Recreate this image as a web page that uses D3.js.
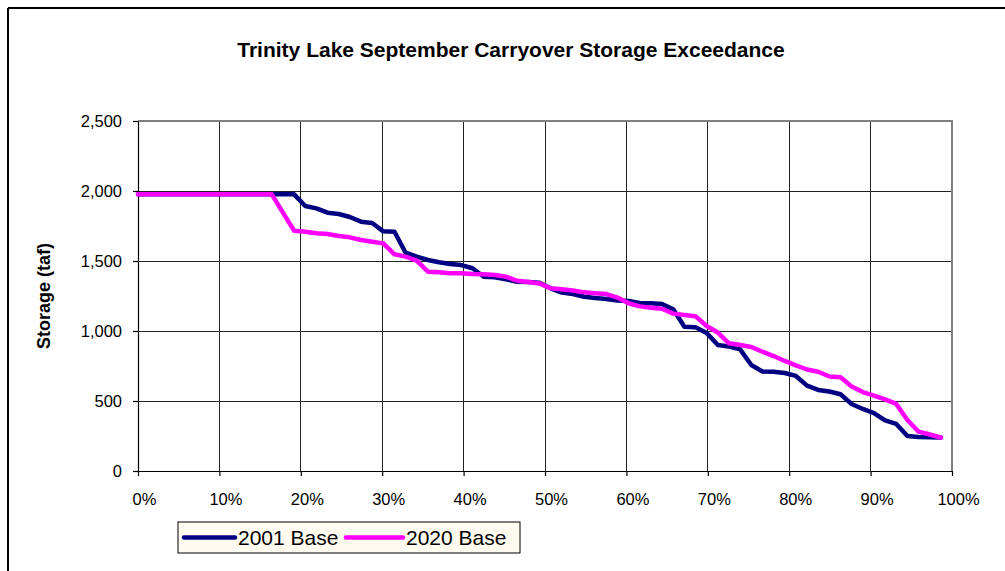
<!DOCTYPE html>
<html>
<head>
<meta charset="utf-8">
<script src="https://cdn.jsdelivr.net/npm/d3@7"></script>
<style>
  html, body { margin: 0; padding: 0; background: #fff; }
  svg { display: block; }
  text { font-family: "Liberation Sans", Arial, sans-serif; fill: #000; }
</style>
</head>
<body>
<svg id="chart" width="1005" height="571"></svg>
<script>
// Sorted September storage (taf), one value per year of the 73-year record
const base2001 = [
  1976, 1976, 1976, 1976, 1976, 1976, 1976, 1976, 1976, 1976,
  1976, 1976, 1976, 1976, 1976, 1893, 1876, 1845, 1836, 1814,
  1781, 1771, 1712, 1709, 1559, 1531, 1507, 1491, 1479, 1471,
  1448, 1388, 1384, 1369, 1352, 1350, 1345, 1305, 1274, 1264,
  1245, 1236, 1229, 1218, 1214, 1200, 1198, 1193, 1155, 1031,
  1026, 986, 900, 889, 869, 757, 711, 709, 700, 679,
  610, 579, 568, 548, 479, 443, 414, 361, 336, 250,
  243, 241, 239
];
const base2020 = [
  1976, 1976, 1976, 1976, 1976, 1976, 1976, 1976, 1976, 1976,
  1976, 1976, 1976, 1846, 1716, 1709, 1698, 1693, 1679, 1669,
  1650, 1638, 1626, 1548, 1531, 1502, 1424, 1419, 1412, 1412,
  1407, 1405, 1400, 1388, 1359, 1350, 1340, 1305, 1298, 1289,
  1276, 1269, 1264, 1239, 1198, 1176, 1166, 1159, 1124, 1114,
  1105, 1036, 989, 912, 900, 886, 852, 821, 786, 754,
  725, 709, 675, 669, 604, 564, 539, 512, 479, 364,
  281, 261, 239
];
const seriesNames = ["2001 Base", "2020 Base"];
const seriesColors = ["#000080", "#FF00FF"];
const yTicks = [0, 500, 1000, 1500, 2000, 2500];
const xTicks = [0, 0.1, 0.2, 0.3, 0.4, 0.5, 0.6, 0.7, 0.8, 0.9, 1.0];
const titleText = "Trinity Lake September Carryover Storage Exceedance";
const yLabel = "Storage (taf)";

const svg = d3.select("#chart");
const W = 1005, H = 571;
const plot = { left: 138, right: 952, top: 121, bottom: 471 };

// outer frame (top and left edges)
svg.append("line").attr("x1", 8).attr("x2", W).attr("y1", 8).attr("y2", 8)
  .attr("stroke", "#000").attr("stroke-width", 2);
svg.append("line").attr("x1", 8).attr("x2", 8).attr("y1", 8).attr("y2", H)
  .attr("stroke", "#000").attr("stroke-width", 2);

const x = d3.scaleLinear().domain([0, 1]).range([plot.left, plot.right]);
const y = d3.scaleLinear().domain([0, 2500]).range([plot.bottom, plot.top]);

// gridlines
const grid = svg.append("g").attr("shape-rendering", "crispEdges");
grid.selectAll("line.h").data(yTicks.slice(1, -1)).join("line")
  .attr("x1", plot.left).attr("x2", plot.right)
  .attr("y1", d => y(d)).attr("y2", d => y(d))
  .attr("stroke", "#222").attr("stroke-width", 1);
grid.selectAll("line.v").data(xTicks.slice(1, -1)).join("line")
  .attr("y1", plot.top).attr("y2", plot.bottom)
  .attr("x1", d => x(d)).attr("x2", d => x(d))
  .attr("stroke", "#222").attr("stroke-width", 1);

// plot frame: grey top and right edges
svg.append("path")
  .attr("d", `M${plot.left},${plot.top}H${plot.right}V${plot.bottom}`)
  .attr("fill", "none").attr("stroke", "#808080").attr("stroke-width", 2);

// axes
const xAxis = d3.axisBottom(x).tickValues(xTicks).tickFormat(d3.format(".0%"))
  .tickSizeInner(5).tickSizeOuter(0).tickPadding(17);
const yAxis = d3.axisLeft(y).tickValues(yTicks).tickFormat(d3.format(","))
  .tickSizeInner(5).tickSizeOuter(0).tickPadding(11);

const gx = svg.append("g").attr("transform", `translate(0,${plot.bottom})`).call(xAxis);
const gy = svg.append("g").attr("transform", `translate(${plot.left},0)`).call(yAxis);
[gx, gy].forEach(g => {
  g.selectAll("path, line").attr("stroke", "#000").attr("stroke-width", 1.2);
  g.selectAll("text").attr("font-size", 16.5).attr("font-family", "Liberation Sans, Arial, sans-serif").attr("fill", "#000");
});
gx.selectAll(".tick text").attr("dx", 6);

// series lines
const xPos = (i) => i / base2001.length;
const line = d3.line().x((d, i) => x(xPos(i))).y(d => y(d));
[base2001, base2020].forEach((vals, k) => {
  svg.append("path").datum(vals)
    .attr("d", line)
    .attr("fill", "none")
    .attr("stroke", seriesColors[k])
    .attr("stroke-width", 4.5)
    .attr("stroke-linejoin", "round")
    .attr("stroke-linecap", "round");
});

// title and axis label
svg.append("text").attr("x", 511).attr("y", 57)
  .attr("text-anchor", "middle").attr("font-size", 21).attr("font-weight", "bold")
  .text(titleText);
svg.append("text")
  .attr("transform", `translate(50,${(plot.top + plot.bottom) / 2}) rotate(-90)`)
  .attr("text-anchor", "middle").attr("font-size", 18).attr("font-weight", "bold")
  .text(yLabel);

// legend
const lg = svg.append("g").attr("transform", "translate(178,522)");
lg.append("rect").attr("x", 0).attr("y", 0).attr("width", 342).attr("height", 31)
  .attr("fill", "#FFFBF0").attr("stroke", "#000").attr("stroke-width", 1);
const legendItems = [
  { x0: 6, x1: 57, tx: 60 },
  { x0: 168, x1: 225, tx: 228 }
];
legendItems.forEach((it, k) => {
  lg.append("line").attr("x1", it.x0).attr("x2", it.x1).attr("y1", 15.5).attr("y2", 15.5)
    .attr("stroke", seriesColors[k]).attr("stroke-width", 4.5).attr("stroke-linecap", "round");
  lg.append("text").attr("x", it.tx).attr("y", 23).attr("font-size", 21).text(seriesNames[k]);
});
</script>
</body>
</html>
